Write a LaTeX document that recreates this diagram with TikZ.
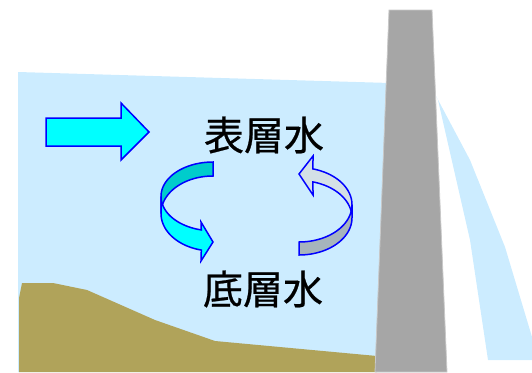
\documentclass[tikz,border=0pt]{standalone}
\usepackage{fontspec}
\newfontfamily\jpfont[FakeBold=0.6]{Noto Sans CJK JP}
\definecolor{water}{RGB}{204,236,255}
\definecolor{soil}{RGB}{176,163,90}
\definecolor{dam}{RGB}{166,166,166}
\definecolor{damedge}{RGB}{200,200,200}
\definecolor{cyanback}{RGB}{0,204,204}
\definecolor{cyanfront}{RGB}{0,255,255}
\definecolor{greyback}{RGB}{212,224,230}
\definecolor{greyfront}{RGB}{166,180,188}
\definecolor{edgeblue}{RGB}{0,0,255}
\tikzset{
  flowshape/.style={draw=edgeblue, line width=1.5pt, line join=miter},
  label/.style={font=\jpfont\fontsize{40}{40}\selectfont, inner sep=0pt}
}
\begin{document}
\begin{tikzpicture}[x=1pt, y=-1pt]
\useasboundingbox (0,0) rectangle (532,372);
% reservoir water
\fill[water] (18,72) -- (390,83) -- (390,372) -- (18,372) -- cycle;
% overflow jet downstream of the dam
\fill[water] (436,96) -- (470,160) -- (505,247) -- (532,337) -- (532,360)
  -- (488,360) -- (470,240) -- (438,100) -- cycle;
% reservoir bed
\fill[soil] (19,298) -- (22,283) -- (53,283) -- (87,290) -- (155,320)
  -- (215,341) -- (377,356) -- (377,372) -- (19,372) -- cycle;
% dam body
\filldraw[fill=dam, draw=damedge, line width=0.8pt]
  (389,10) -- (432,10) -- (447,372) -- (375,372) -- cycle;
% inflow arrow
\filldraw[flowshape, fill=cyanfront]
  (46,118) -- (121,118) -- (121,103) -- (149,132) -- (121,160)
  -- (121,146) -- (46,146) -- cycle;
% left circulation arrow: back band
\filldraw[flowshape, fill=cyanback]
  plot[domain=90:180, samples=40] ({213+52*cos(\x)}, {196.4-34.4*sin(\x)})
  -- plot[domain=180:90, samples=40] ({213+52*cos(\x)}, {213.5-37.5*sin(\x)})
  -- cycle;
% left circulation arrow: front band with head
\filldraw[flowshape, fill=cyanfront]
  plot[domain=180:257, samples=40] ({213+52*cos(\x)}, {196.4-34.4*sin(\x)})
  -- (201,222) -- (213,242) -- (201,261)
  -- plot[domain=257:180, samples=40] ({213+52*cos(\x)}, {213.5-37.5*sin(\x)})
  -- cycle;
% right circulation arrow: back band with head
\filldraw[flowshape, fill=greyback]
  plot[domain=74.7:0, samples=40] ({299+53*cos(\x)}, {204.8-37.2*sin(\x)})
  -- plot[domain=0:74.7, samples=40] ({299+53*cos(\x)}, {217.8-37.2*sin(\x)})
  -- (313,195) -- (299,174) -- (313,156) -- cycle;
% right circulation arrow: front band
\filldraw[flowshape, fill=greyfront]
  plot[domain=0:-90, samples=40] ({299+53*cos(\x)}, {204.8-37.2*sin(\x)})
  -- plot[domain=-90:0, samples=40] ({299+53*cos(\x)}, {217.8-37.2*sin(\x)})
  -- cycle;
% layer labels
\node[label] (surface) at (264,135) {表層水};
\node[label] (bottom) at (263,289) {底層水};
\end{tikzpicture}
\end{document}
